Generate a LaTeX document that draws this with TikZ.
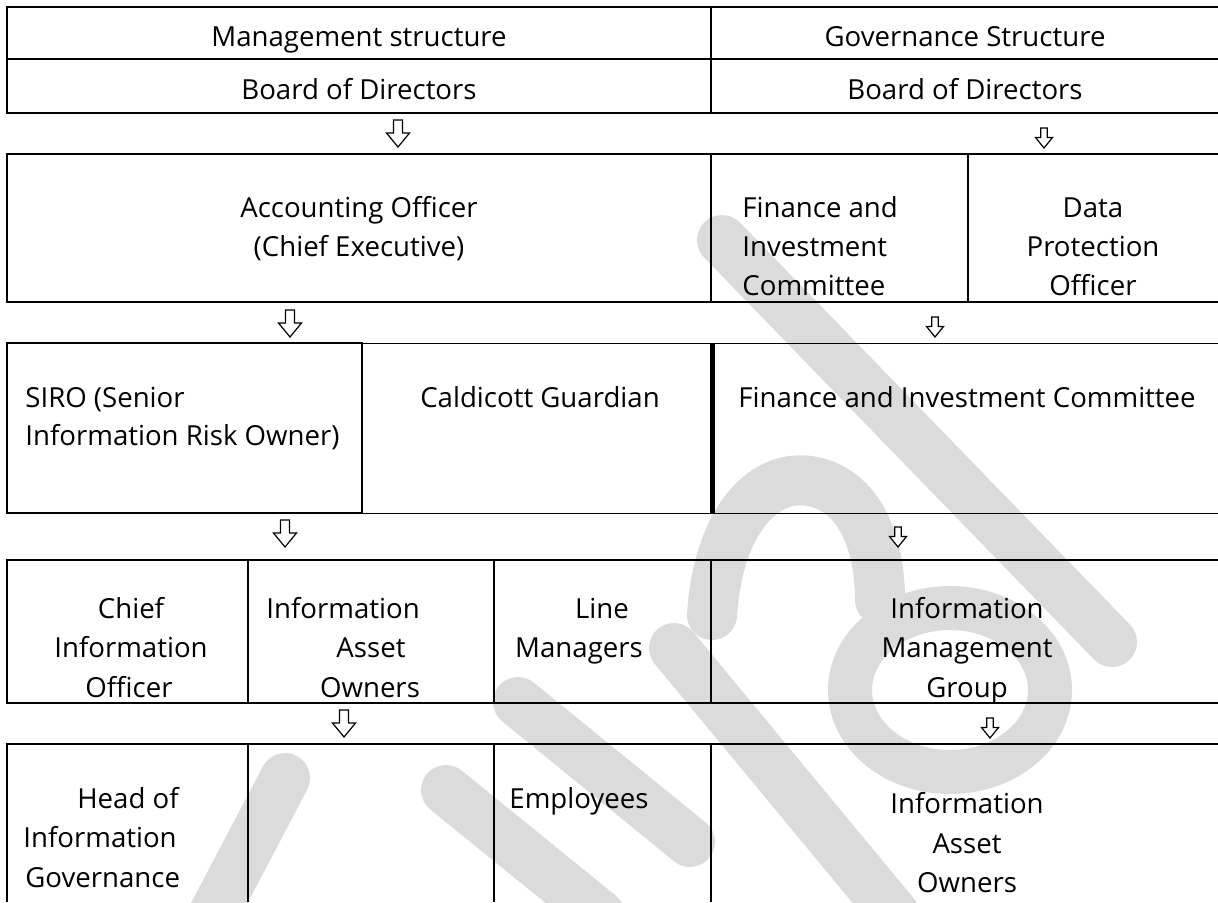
\documentclass[tikz,border=0pt]{standalone}
\usepackage{fontspec}
\setmainfont{Open Sans}
\begin{document}
\begin{tikzpicture}[x=0.5pt,y=-0.5pt,
  every node/.style={font=\fontsize{13.8pt}{19.5pt}\selectfont, inner sep=0pt, text=black},
  lbl/.style={anchor=base},
  lbll/.style={anchor=base west},
  rule/.style={line width=1pt},
  midrule/.style={line width=0.75pt},
  thinrule/.style={line width=0.5pt},
  heavyrule/.style={line width=2.5pt},
  wmark/.style={draw=black!14, line width=25pt, line cap=round, line join=round},
  arrowline/.style={draw=black, fill=white, line width=0.6pt},
  bigarrow/.pic={\path[arrowline] (-4.5,0) -- (4.5,0) -- (4.5,13) -- (11.5,13) -- (0,27) -- (-11.5,13) -- (-4.5,13) -- cycle;},
  smallarrow/.pic={\path[arrowline] (-3.2,0) -- (3.2,0) -- (3.2,9.5) -- (8.5,9.5) -- (0,20) -- (-8.5,9.5) -- (-3.2,9.5) -- cycle;}
]
\useasboundingbox (0,0) rectangle (1218,902);
\fill[white] (0,0) rectangle (1218,902);

% ---------- watermark (background) ----------
\draw[wmark] (722,240) -- (1112,642);
\draw[wmark] (712,615) .. controls (718,520) and (765,470) .. (815,482)
              .. controls (858,492) and (880,540) .. (880,600);
\draw[wmark, line width=22pt] (950,690) ellipse [x radius=100, y radius=82];
\draw[wmark] (674,648) -- (895,915);
\draw[wmark] (213,915) -- (285,778);
\draw[wmark] (446,790) -- (600,915);
\draw[wmark] (518,702) -- (690,842);

% ---------- row 1 and 2 ----------
\draw[rule] (7,7) -- (1218,7);
\draw[rule] (7,59) -- (1218,59);
\draw[rule] (7,113) -- (1218,113);
\draw[rule] (7,6) -- (7,114);
\draw[midrule] (711,7) -- (711,113);
\node[lbl] (mgmt) at (359,46) {Management structure};
\node[lbl] (gov) at (965,46) {Governance Structure};
\node[lbl] (bodl) at (359,99) {Board of Directors};
\node[lbl] (bodr) at (965,99) {Board of Directors};

% ---------- row 3 ----------
\draw[rule] (7,154) -- (1218,154);
\draw[rule] (7,302) -- (1218,302);
\draw[rule] (7,153) -- (7,303);
\draw[midrule] (711,154) -- (711,302);
\draw[midrule] (968,154) -- (968,302);
\node[lbl] (ao1) at (359,217) {Accounting Officer};
\node[lbl] (ao2) at (359,256) {(Chief Executive)};
\node[lbll] (fic1) at (742,217) {Finance and};
\node[lbll] (fic2) at (742,256) {Investment};
\node[lbll] (fic3) at (742,295) {Committee};
\node[lbl] (dpo1) at (1093,217) {Data};
\node[lbl] (dpo2) at (1093,256) {Protection};
\node[lbl] (dpo3) at (1093,295) {Officer};

% ---------- row 4 ----------
\draw[rule] (7,343) -- (362,343) -- (362,513) -- (7,513) -- cycle;
\draw[thinrule] (362,343) -- (1218,343);
\draw[thinrule] (362,513) -- (1218,513);
\draw[heavyrule] (712,343) -- (712,513);
\node[lbll] (siro1) at (25,407) {SIRO (Senior};
\node[lbll] (siro2) at (25,445) {Information Risk Owner)};
\node[lbl] (cg) at (540,407) {Caldicott Guardian};
\node[lbl] (fic) at (967,407) {Finance and Investment Committee};

% ---------- row 5 ----------
\draw[rule] (7,560) -- (1218,560);
\draw[rule] (7,703) -- (1218,703);
\draw[rule] (7,559) -- (7,704);
\draw[midrule] (248,560) -- (248,703);
\draw[midrule] (494,560) -- (494,703);
\draw[midrule] (711,560) -- (711,703);
\node[lbl] (cio1) at (131,618) {Chief};
\node[lbl] (cio2) at (131,657) {Information};
\node[lbl] (cio3) at (129,697) {Officer};
\node[lbll] (iao1) at (266,618) {Information};
\node[lbl] (iao2) at (371,657) {Asset};
\node[lbl] (iao3) at (370,697) {Owners};
\node[lbl] (lm1) at (602,618) {Line};
\node[lbl] (lm2) at (579,657) {Managers};
\node[lbl] (img1) at (967,618) {Information};
\node[lbl] (img2) at (967,657) {Management};
\node[lbl] (img3) at (967,697) {Group};

% ---------- row 6 ----------
\draw[rule] (7,744) -- (1218,744);
\draw[rule] (7,743) -- (7,902);
\draw[midrule] (248,744) -- (248,902);
\draw[midrule] (494,744) -- (494,902);
\draw[midrule] (711,744) -- (711,902);
\node[lbl] (hig1) at (128,808) {Head of};
\node[lbll] (hig2) at (23,847) {Information};
\node[lbll] (hig3) at (25,887) {Governance};
\node[lbll] (emp) at (509,808) {Employees};
\node[lbl] (iar1) at (967,813) {Information};
\node[lbl] (iar2) at (967,853) {Asset};
\node[lbl] (iar3) at (967,892) {Owners};

% ---------- arrows ----------
\pic (al1) at (398,120) {bigarrow};
\pic (ar1) at (1044,128) {smallarrow};
\pic (al2) at (290,310) {bigarrow};
\pic (ar2) at (935,317) {smallarrow};
\pic (al3) at (285,520) {bigarrow};
\pic (ar3) at (898,527) {smallarrow};
\pic (al4) at (344,710) {bigarrow};
\pic (ar4) at (990,718) {smallarrow};
\end{tikzpicture}
\end{document}
